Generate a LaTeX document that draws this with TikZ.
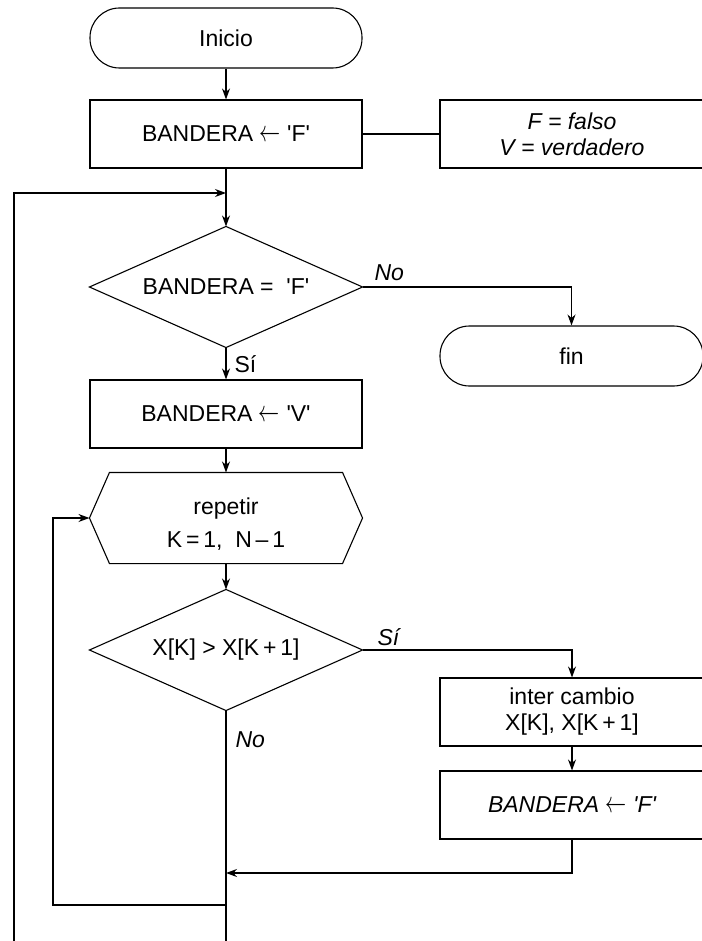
\documentclass[tikz,border=0pt]{standalone}
\usepackage{graphicx}
\usepackage{fontspec}
\setmainfont{Liberation Sans}
\usetikzlibrary{arrows.meta}
% assignment arrow
\newcommand{\asig}{\raisebox{0.5pt}{\scalebox{0.85}[1.2]{$\leftarrow$}}}
\newcommand{\qt}{\textquotesingle}
\begin{document}
\begin{tikzpicture}[x=1pt,y=-1pt,
  line width=1.1pt,
  >={Stealth[length=11pt,width=8pt]},
  txt/.style={font=\fontsize{23}{26}\selectfont},
  itxt/.style={font=\fontsize{23}{26}\selectfont\itshape},
  term/.style={draw, rounded corners=29.5pt, minimum height=60pt, inner sep=0pt, txt},
  box/.style={draw, minimum height=68pt, inner sep=0pt, align=center, txt},
  ghost/.style={inner sep=0pt, align=center, txt},
  lbl/.style={inner sep=0pt, anchor=base west, txt},
  ilbl/.style={inner sep=0pt, anchor=base west, itxt}]
\useasboundingbox (0,0) rectangle (701,941);

% main column
\node[term, minimum width=272pt] (inicio) at (226,38) {Inicio};
\node[box, minimum width=272pt] (b1) at (226,134) {BANDERA \asig\ \qt F\qt};
\node[ghost, minimum width=272pt, minimum height=120pt] (d1) at (226,287) {BANDERA = \ \qt F\qt};
\draw (d1.west) -- (d1.north) -- (d1.east) -- (d1.south) -- cycle;
\node[box, minimum width=272pt] (b2) at (226,414) {BANDERA \asig\ \qt V\qt};
\node[ghost, minimum width=272pt, minimum height=90pt] (rep) at (226,518) {};
\draw (rep.west) -- ([xshift=20pt]rep.north west) -- ([xshift=-20pt]rep.north east)
      -- (rep.east) -- ([xshift=-20pt]rep.south east) -- ([xshift=20pt]rep.south west) -- cycle;
\node[ghost] (reptxt) at (226,524) {repetir\\[7pt]K\,=\,1,\ \ N\,--\,1};
\node[ghost, minimum width=272pt, minimum height=120pt] (d2) at (226,650) {X[K] > X[K\,+\,1]};
\draw (d2.west) -- (d2.north) -- (d2.east) -- (d2.south) -- cycle;

% right column
\node[box, minimum width=264pt, itxt] (note) at (572,134) {F = falso\\V = verdadero};
\node[term, minimum width=263pt] (fin) at (571.5,356) {fin};
\node[box, minimum width=264pt] (b3) at (572,712) {inter cambio\\X[K], X[K\,+\,1]};
\node[box, minimum width=264pt, itxt] (b4) at (572,805) {BANDERA \asig\ \qt F\qt};

% junction points
\coordinate (j1) at (226,193);
\coordinate (o1) at (14,941);
\coordinate (j2) at (226,873);
\coordinate (j3) at (226,905);
\coordinate (i1) at (53,905);
\coordinate (bot) at (226,941);

% connectors
\draw[->] (inicio) -- (b1);
\draw (b1.east) -- (note.west);
\draw[->] (b1) -- (d1.north);
\draw[->] (o1) |- (j1);
\draw[->] (d1.east) -| (fin.north);
\draw[->] (d1.south) -- (b2.north);
\draw[->] (b2) -- (rep.north);
\draw[->] (rep.south) -- (d2.north);
\draw[->] (d2.east) -| (b3.north);
\draw[->] (b3) -- (b4);
\draw[->] (b4.south) |- (j2);
\draw (d2.south) -- (bot);
\draw[->] (j3) -- (i1) |- (rep.west);

% branch labels
\node[ilbl] (no1) at (374,280) {No};
\node[lbl] (si1) at (234,372) {Sí};
\node[ilbl] (si2) at (377,645) {Sí};
\node[ilbl] (no2) at (235,747) {No};
\end{tikzpicture}
\end{document}
